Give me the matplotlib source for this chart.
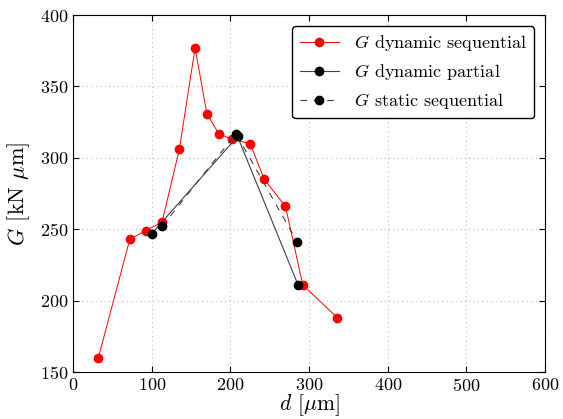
import numpy as np
import matplotlib.pyplot as plt

plt.rcParams.update(
    {
        "font.family": "serif",
        "font.serif": ["cmr10", "DejaVu Serif"],
        "mathtext.fontset": "cm",
        "axes.formatter.use_mathtext": True,
        "font.size": 13,
        "xtick.direction": "in",
        "ytick.direction": "in",
    }
)

# G dynamic sequential
d_dyn_seq = [32, 72, 92, 113, 135, 155, 170, 185, 202, 225, 243, 270, 292, 336]
G_dyn_seq = [160, 243, 249, 255, 306, 377, 331, 317, 313, 310, 285, 266, 211, 188]

# G dynamic partial
d_dyn_par = [100, 209, 286]
G_dyn_par = [247, 315, 211]

# G static sequential
d_sta_seq = [113, 207, 285]
G_sta_seq = [252, 317, 241]

fig = plt.figure(figsize=(5.63, 4.19), dpi=100)
ax = fig.add_axes([0.13, 0.112, 0.838, 0.852])

ax.plot(d_dyn_seq, G_dyn_seq, "-o", color="red", lw=0.7, ms=6, mec="red",
        label=r"$G$ dynamic sequential")
ax.plot(d_dyn_par, G_dyn_par, "-o", color="#404040", lw=0.8, ms=6,
        mfc="black", mec="black", label=r"$G$ dynamic partial")
ax.plot(d_sta_seq, G_sta_seq, "--o", color="#404040", lw=0.8, ms=6,
        mfc="black", mec="black", dashes=(6, 6), label=r"$G$ static sequential")

ax.set_xlim(0, 600)
ax.set_ylim(150, 400)
ax.set_xticks(np.arange(0, 601, 100))
ax.set_yticks(np.arange(150, 401, 50))
ax.tick_params(top=True, right=True, length=4, labelsize=13)
ax.grid(True, ls=(0, (1, 3)), color="#bdbdbd", lw=0.8)

ax.set_xlabel(r"$d$ [$\mu$m]", fontsize=15.5, labelpad=-1.5)
ax.set_ylabel(r"$G$ [kN $\mu$m]", fontsize=16, labelpad=6)

leg = ax.legend(loc="upper right", fontsize=13, framealpha=1, edgecolor="black",
                fancybox=True, numpoints=1, handlelength=2.2,
                borderaxespad=0.6)
leg.get_frame().set_linewidth(1.0)

fig.savefig("out.png", dpi=100)
